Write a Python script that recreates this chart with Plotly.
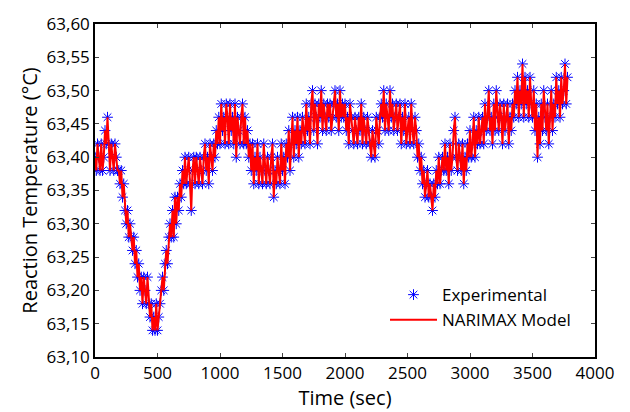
import plotly.graph_objects as go

# sampling times (s), one sample every 10 s
time_sec = list(range(0, 3790, 10))

# experimental reaction temperature (°C)
exp_temp = [
    63.40, 63.38, 63.42, 63.40, 63.38, 63.42, 63.38, 63.40, 63.44, 63.42,
    63.46, 63.42, 63.38, 63.42, 63.40, 63.38, 63.42, 63.40, 63.38, 63.38,
    63.36, 63.38, 63.34, 63.36, 63.32, 63.30, 63.32, 63.28, 63.30, 63.28,
    63.26, 63.28, 63.24, 63.26, 63.22, 63.24, 63.20, 63.22, 63.18, 63.22,
    63.20, 63.18, 63.22, 63.18, 63.16, 63.18, 63.14, 63.16, 63.14, 63.18,
    63.14, 63.16, 63.18, 63.20, 63.22, 63.20, 63.24, 63.26, 63.24, 63.28,
    63.30, 63.28, 63.32, 63.28, 63.34, 63.30, 63.34, 63.32, 63.36, 63.34,
    63.38, 63.36, 63.40, 63.36, 63.38, 63.40, 63.36, 63.32, 63.38, 63.40,
    63.36, 63.40, 63.38, 63.36, 63.40, 63.38, 63.36, 63.40, 63.42, 63.38,
    63.40, 63.36, 63.42, 63.40, 63.38, 63.42, 63.40, 63.44, 63.42, 63.46,
    63.42, 63.48, 63.44, 63.46, 63.42, 63.48, 63.46, 63.42, 63.48, 63.44,
    63.46, 63.42, 63.48, 63.40, 63.46, 63.44, 63.42, 63.46, 63.48, 63.42,
    63.46, 63.42, 63.44, 63.40, 63.42, 63.38, 63.42, 63.36, 63.40, 63.38,
    63.42, 63.36, 63.40, 63.38, 63.36, 63.42, 63.38, 63.36, 63.40, 63.38,
    63.36, 63.40, 63.42, 63.34, 63.38, 63.36, 63.40, 63.38, 63.36, 63.42,
    63.38, 63.40, 63.36, 63.42, 63.40, 63.44, 63.38, 63.42, 63.46, 63.40,
    63.44, 63.42, 63.46, 63.40, 63.44, 63.42, 63.46, 63.44, 63.42, 63.48,
    63.44, 63.46, 63.42, 63.48, 63.50, 63.44, 63.48, 63.46, 63.42, 63.48,
    63.46, 63.50, 63.44, 63.48, 63.46, 63.44, 63.48, 63.46, 63.48, 63.44,
    63.46, 63.48, 63.50, 63.46, 63.48, 63.44, 63.50, 63.46, 63.48, 63.46,
    63.48, 63.44, 63.46, 63.42, 63.48, 63.46, 63.44, 63.42, 63.46, 63.44,
    63.42, 63.46, 63.44, 63.48, 63.42, 63.46, 63.44, 63.42, 63.46, 63.44,
    63.42, 63.40, 63.44, 63.42, 63.40, 63.46, 63.44, 63.42, 63.46, 63.48,
    63.46, 63.50, 63.44, 63.48, 63.46, 63.44, 63.50, 63.46, 63.48, 63.44,
    63.46, 63.48, 63.44, 63.46, 63.48, 63.42, 63.46, 63.44, 63.48, 63.42,
    63.44, 63.46, 63.42, 63.48, 63.44, 63.42, 63.46, 63.44, 63.40, 63.42,
    63.38, 63.40, 63.36, 63.38, 63.34, 63.36, 63.38, 63.34, 63.36, 63.34,
    63.32, 63.36, 63.34, 63.38, 63.36, 63.40, 63.36, 63.38, 63.40, 63.38,
    63.42, 63.38, 63.40, 63.36, 63.42, 63.38, 63.40, 63.44, 63.46, 63.40,
    63.38, 63.42, 63.40, 63.38, 63.42, 63.36, 63.40, 63.38, 63.42, 63.40,
    63.44, 63.40, 63.42, 63.46, 63.40, 63.44, 63.42, 63.46, 63.42, 63.44,
    63.46, 63.42, 63.48, 63.44, 63.46, 63.50, 63.44, 63.46, 63.42, 63.48,
    63.44, 63.50, 63.46, 63.44, 63.48, 63.46, 63.42, 63.48, 63.44, 63.46,
    63.48, 63.42, 63.46, 63.44, 63.48, 63.46, 63.50, 63.48, 63.52, 63.46,
    63.50, 63.48, 63.54, 63.46, 63.52, 63.48, 63.50, 63.46, 63.52, 63.48,
    63.46, 63.50, 63.44, 63.48, 63.40, 63.46, 63.42, 63.48, 63.44, 63.50,
    63.46, 63.44, 63.48, 63.42, 63.46, 63.50, 63.44, 63.48, 63.46, 63.52,
    63.48, 63.50, 63.46, 63.52, 63.48, 63.50, 63.54, 63.48, 63.52,
]

# NARIMAX model output (overlays the measured samples)
model_temp = list(exp_temp)

x_ticks = [0, 500, 1000, 1500, 2000, 2500, 3000, 3500, 4000]
y_ticks = [63.10, 63.15, 63.20, 63.25, 63.30, 63.35, 63.40, 63.45, 63.50, 63.55, 63.60]

FONT = "Open Sans"

fig = go.Figure()
fig.add_trace(go.Scatter(
    x=time_sec, y=exp_temp, mode="markers", name="Experimental",
    legendgroup="a",
    marker=dict(symbol="asterisk-open", size=9, color="#0000FF",
                line=dict(width=1, color="#0000FF")),
))
fig.add_trace(go.Scatter(
    x=time_sec, y=model_temp, mode="lines", name="NARIMAX Model",
    legendgroup="b",
    line=dict(color="#FF0000", width=2),
))

axis_common = dict(
    showline=True, linecolor="black", linewidth=1.5, mirror="ticks",
    ticks="inside", ticklen=4, tickcolor="#444", showgrid=False, zeroline=False,
    tickfont=dict(family=FONT, size=17, color="black"),
)

fig.update_layout(
    width=630, height=412,
    margin=dict(l=95, r=35, t=13, b=52),
    paper_bgcolor="white", plot_bgcolor="white",
    separators=",.",
    font=dict(family=FONT, color="black"),
    xaxis=dict(range=[0, 4000], tickvals=x_ticks, tickformat="d",
               title=dict(text="Time (sec)", font=dict(family=FONT, size=20), standoff=2),
               **axis_common),
    yaxis=dict(range=[63.10, 63.60], tickvals=y_ticks, tickformat=".2f",
               title=dict(text="Reaction Temperature (°C)", font=dict(family=FONT, size=20), standoff=4),
               **axis_common),
    legend=dict(x=0.58, y=0.24, xanchor="left", yanchor="top",
                bgcolor="rgba(0,0,0,0)", borderwidth=0, itemwidth=47,
                tracegroupgap=0, traceorder="grouped",
                font=dict(family=FONT, size=17, color="black")),
    showlegend=True,
)

fig.write_html("out.html")
